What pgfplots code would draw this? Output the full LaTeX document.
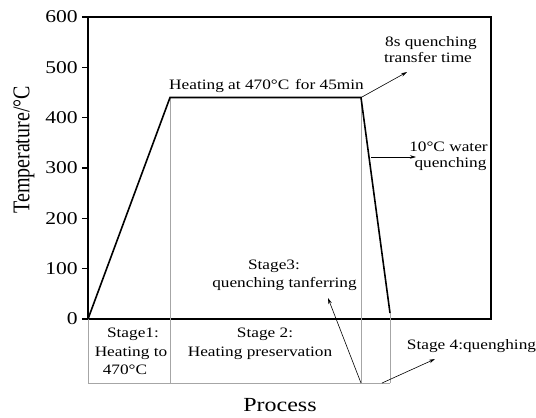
\documentclass[border=0pt]{standalone}
\usepackage{fontspec}
\usepackage{graphicx}
\setmainfont{Liberation Serif}[FakeStretch=1.2]
\newfontfamily\plainserif{Liberation Serif}
\usepackage{pgfplots}
\pgfplotsset{compat=1.18}
\usetikzlibrary{arrows.meta}

\newcommand{\annfont}{\fontsize{14.4}{17.2}\selectfont}
\newcommand{\tickfont}{\fontsize{18}{21}\selectfont}
\newcommand{\labfont}{\fontsize{20}{24}\selectfont}

\begin{document}
\begin{tikzpicture}[
  ann/.style={font=\annfont, inner sep=0pt, text height=9.6pt, text depth=0pt},
  pointer/.style={black, line width=0.6pt, -{Stealth[length=6pt,width=3.5pt]}},
  cell/.style={black!35, line width=0.7pt}
]
\begin{axis}[
  at={(0,0)}, anchor=south west,
  width=403pt, height=302pt, scale only axis,
  xmin=0, xmax=403, ymin=0, ymax=600,
  xtick=\empty,
  ytick={0,100,...,600},
  ytick pos=left,
  tick align=outside,
  major tick length=6pt,
  every tick/.style={black, line width=1.2pt},
  axis line style={line width=1.6pt},
  /pgf/number format/assume math mode=true,
  yticklabel style={font=\tickfont, inner sep=0pt, xshift=-4pt},
  clip=false,
]
% stage boundaries below the curve
\draw[cell] (axis cs:82,440)  -- (axis cs:82,-127.2);
\draw[cell] (axis cs:273,440) -- (axis cs:273,-127.2);
\draw[cell] (axis cs:302,12)  -- (axis cs:302,-127.2);
\draw[cell] (axis cs:0,0)     -- (axis cs:0,-127.2);
\draw[cell] (axis cs:0,-127.2) -- (axis cs:302,-127.2);

% heat-treatment path
\addplot[black, line width=1.6pt] coordinates {(0,0) (82,440) (273,440) (302,12)};

% annotations
\node[ann, anchor=west] at (axis cs:81,464.9) {Heating at 470°C};
\node[ann, anchor=east] at (axis cs:276,464.9) {for 45min};
\draw[pointer] (axis cs:273,440) -- (axis cs:319,490.7);
\node[ann] at (axis cs:343,550.3) {8s quenching};
\node[ann] at (axis cs:340,518.6) {transfer time};
\draw[pointer] (axis cs:283,321.9) -- (axis cs:328,321.9);
\node[ann] at (axis cs:360.5,341.7) {10°C water};
\node[ann] at (axis cs:362.5,310) {quenching};
\node[ann] at (axis cs:186,107.3) {Stage3:};
\node[ann] at (axis cs:196.5,71.5) {quenching tanferring};
\draw[pointer] (axis cs:273,-127.2) -- (axis cs:240,41.7);
\draw[pointer] (axis cs:294,-127.2) -- (axis cs:347,-79.5);
\node[ann] at (axis cs:383.5,-51.7) {Stage 4:quenghing};
\node[ann] at (axis cs:45,-27.8) {Stage1:};
\node[ann] at (axis cs:43,-65.6) {Heating to};
\node[ann] at (axis cs:37,-101.3) {470°C};
\node[ann] at (axis cs:177,-27.8) {Stage 2:};
\node[ann] at (axis cs:172,-65.6) {Heating preservation};

% axis titles
\node[font=\labfont, inner sep=0pt] at (axis cs:192,-171) {Process};
\node[inner sep=0pt, rotate=90] at (axis cs:-64,336)
  {\scalebox{1}[1.2]{\plainserif\labfont Temperature/°C}};

\coordinate (bbSW) at (axis cs:-88,-194.7);
\coordinate (bbNE) at (axis cs:448,633.8);
\end{axis}
\pgfresetboundingbox
\path (bbSW) rectangle (bbNE);
\end{tikzpicture}
\end{document}
